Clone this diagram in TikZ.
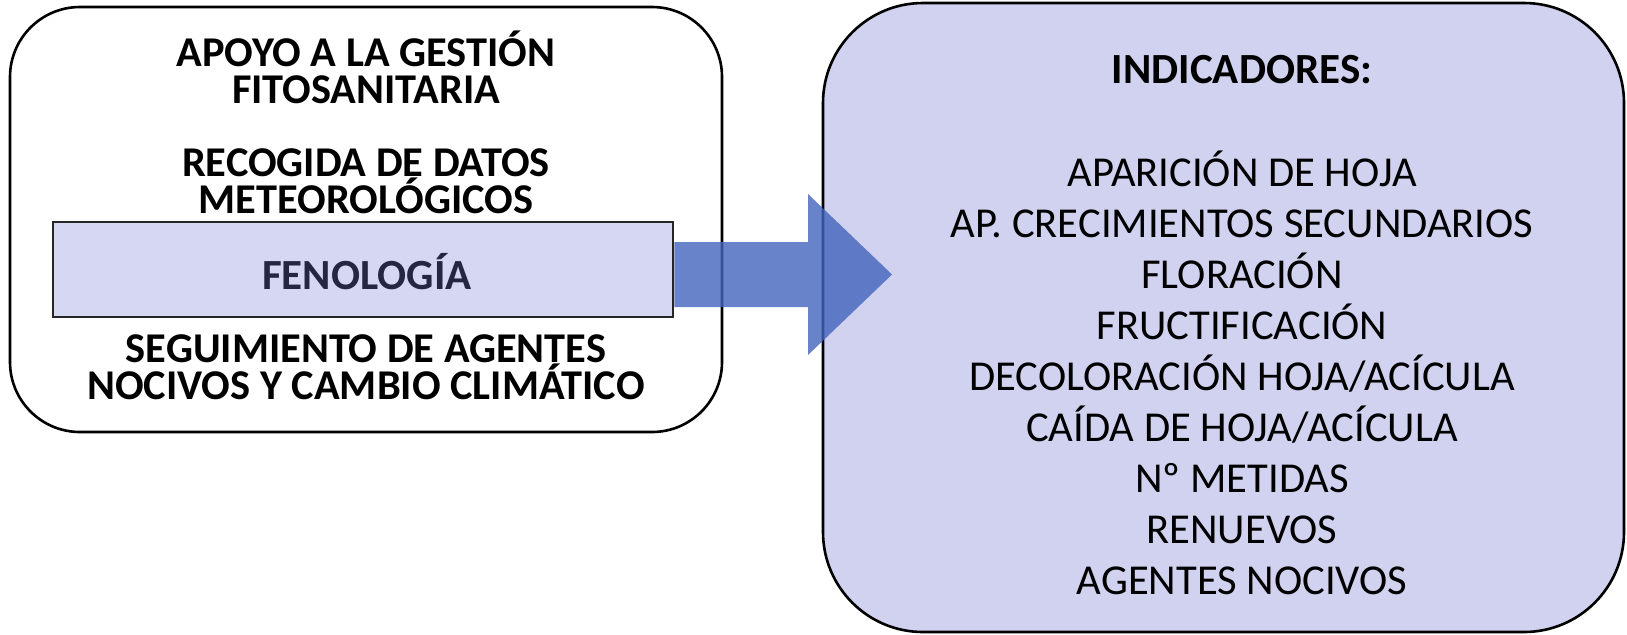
\documentclass[tikz,border=0pt]{standalone}
\usepackage{fontspec}
\setmainfont{Carlito}
\definecolor{indfill}{RGB}{208,210,239}
\definecolor{fenofill}{RGB}{214,215,242}
\definecolor{fenotext}{RGB}{36,38,66}
\definecolor{arrowblue}{RGB}{66,100,188}

\begin{document}
\begin{tikzpicture}[x=0.5pt,y=-0.5pt,
  frame/.style={draw=black,line width=1.3pt,inner sep=0pt},
  lefttxt/.style={anchor=base,align=center,inner sep=0pt,font=\fontsize{21.2}{18.5}\selectfont\bfseries},
  item/.style={anchor=base,font=\fontsize{21.3}{25.5}\selectfont}]
\useasboundingbox (0,0) rectangle (1627,634);
% boxes
\node[frame,rounded corners=35pt,minimum width=356pt,minimum height=212.5pt] (gestion) at (366,219.5) {};
\node[frame,fill=indfill,rounded corners=50pt,minimum width=400.5pt,minimum height=314.5pt] (indicadores) at (1223.5,317.5) {};
\node[frame,draw=black!85,fill=fenofill,minimum width=310pt,minimum height=47.5pt] (fenologia) at (363,269.5) {};
% left texts (base = last line)
\node[lefttxt] (apoyo) at (366,103) {APOYO A LA GESTIÓN\\FITOSANITARIA};
\node[lefttxt] (recogida) at (366,213) {RECOGIDA DE DATOS\\METEOROLÓGICOS};
\node[anchor=base,font=\fontsize{21.5}{24}\selectfont\bfseries,text=fenotext] (fenotxt) at (367,289) {FENOLOGÍA};
\node[lefttxt] (seguimiento) at (366,399) {SEGUIMIENTO DE AGENTES\\NOCIVOS Y CAMBIO CLIMÁTICO};
% right texts
\node[item,font=\fontsize{21.5}{24}\selectfont\bfseries] (indtitle) at (1242,83) {INDICADORES:};
\foreach \t [count=\i] in {APARICIÓN DE HOJA,AP. CRECIMIENTOS SECUNDARIOS,FLORACIÓN,FRUCTIFICACIÓN,DECOLORACIÓN HOJA/ACÍCULA,CAÍDA DE HOJA/ACÍCULA,Nº METIDAS,RENUEVOS,AGENTES NOCIVOS}
\node[item] (ind\i) at (1242,{186+51*(\i-1)}) {\t};
% block arrow
\fill[arrowblue,opacity=0.8] (fenologia.east |- 0,242) -- (808,242) -- (808,194) -- (892,274.5) -- (808,355) -- (808,307) -- (fenologia.east |- 0,307) -- cycle;
\end{tikzpicture}
\end{document}
